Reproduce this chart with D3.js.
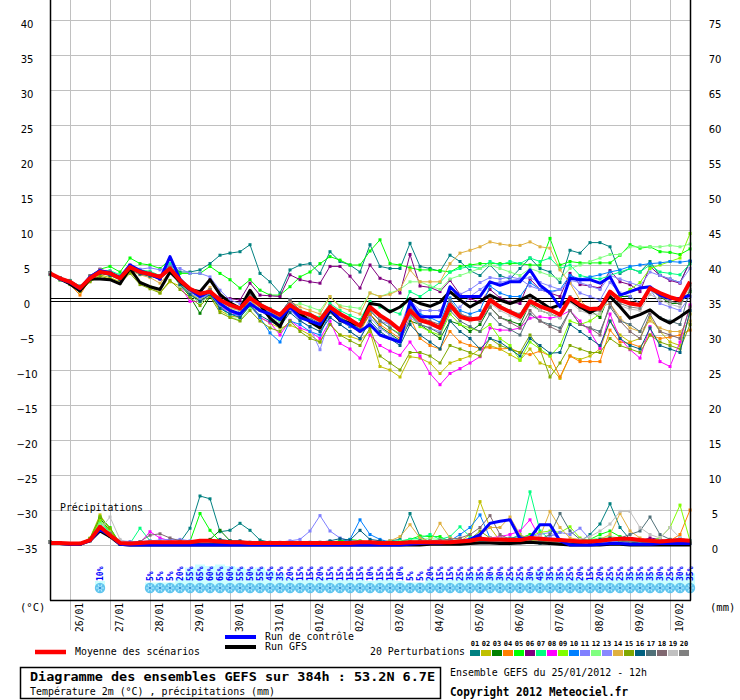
<!DOCTYPE html>
<html><head><meta charset="utf-8">
<script src="https://cdn.jsdelivr.net/npm/d3@7"></script>
<style>
body{margin:0;background:#fff;}
svg{display:block;}
</style></head><body>
<svg id="c" width="740" height="700"></svg>
<script>
// ---------- DATA ----------
const memberColors = ["#008080","#c0c000","#008000","#ff8000","#00ff00","#800080","#00ff80","#ff00ff","#80ff00","#0080ff",
                      "#8080ff","#80ff80","#8888ff","#e0b040","#80a800","#006080","#507078","#806870","#c0c0c0","#808080"];
const memberIds = ["01","02","03","04","05","06","07","08","09","10","11","12","13","14","15","16","17","18","19","20"];
const dateHours = [12,36,60,84,108,132,156,180,204,228,252,276,300,324,348,372];
const dateLabels = ["26/01","27/01","28/01","29/01","30/01","31/01","01/02","02/02","03/02","04/02","05/02","06/02","07/02","08/02","09/02","10/02"];
const leftTicks = [-35,-30,-25,-20,-15,-10,-5,0,5,10,15,20,25,30,35,40];
const rightTicks = [0,5,10,15,20,25,30,35,40,45,50,55,60,65,70,75];

// temperature (°C), every 6h from 25/01 12h
const tMean = [3.8, 3.1,2.6,1.7,3.1, 4.0,3.8,3.1,4.7, 4.0,3.7,3.3,4.5, 2.8,1.6,0.9,1.2, 0.0,-0.7,-1.2,0.3, -0.7,-1.4,-2.1,-0.7, -1.7,-2.1,-2.9,-1.0, -2.0,-2.8,-3.7,-1.0, -2.2,-3.1,-4.3,-1.5, -2.9,-3.3,-4.0,-0.7, -2.4,-2.8,-2.6,0.0, -1.0,-1.7,-2.4,-0.2, -0.9,-1.4,-2.1,0.3, -0.7,-1.3,-1.2,1.2, 0.0,-0.5,-0.7,1.7, 1.0,0.4,0.0,2.6];
const tCtrl = [3.8, 3.0,2.5,1.6,3.3, 4.2,3.9,3.2,5.0, 4.2,3.7,3.0,6.2, 3.0,1.5,0.5,1.2, -0.5,-1.5,-2.0,-0.5, -1.5,-2.0,-2.8,-1.0, -2.5,-3.0,-3.5,-1.2, -2.8,-3.5,-4.5,-3.5, -5.0,-5.5,-6.0,-0.2, -2.4,-2.4,-2.4,1.9, 0.5,0.5,0.5,2.6, 2.1,2.6,2.6,4.3, 2.1,1.0,-1.0,3.1, 2.9,2.9,2.4,3.3, 0.7,1.2,1.7,1.9, 0.7,0.2,0.2,0.7];
const tGfs = [3.8, 3.0,2.3,1.3,3.0, 3.0,2.9,2.3,4.5, 2.5,1.9,1.5,4.0, 2.6,1.5,1.2,2.9, 0.8,-0.4,-1.2,1.4, -0.7,-2.6,-3.8,-0.7, -1.9,-3.1,-4.0,-1.4, -2.9,-3.3,-3.6,-0.5, -0.7,-1.7,-1.0,0.2, -0.5,-0.9,-0.3,1.2, 0.0,-1.0,-0.2,0.7, 0.0,-0.5,0.0,0.7, -0.2,-1.2,-0.7,0.0, -0.95,-1.8,-1.0,0.5, -0.95,-2.6,-2.1,-1.4, -2.6,-3.3,-2.4,-1.4];

const t01 = [3.9, 3.2,2.8,2.0,3.3, 4.1,3.7,3.0,4.6, 4.1,3.9,3.5,5.0, 4.0,4.0,4.3,5.2, 6.4,6.7,6.9,7.9, 3.8,2.6,1.0,4.3, 5.0,5.2,3.8,6.9, 5.5,5.0,4.0,7.9, 4.8,4.5,4.5,8.1, 4.8,4.5,4.1,6.4, 5.5,4.2,3.5,5.0, 3.5,3.0,4.5,6.0, 4.5,4.0,2.5,7.1, 6.7,8.2,8.2,7.6, 3.8,4.5,4.0,5.5, 3.5,3.0,2.5,5.5];
const t02 = [3.8, 3.0,2.4,1.4,2.7, 3.6,3.2,2.6,4.0, 2.5,1.9,1.0,2.6, 2.0,0.8,-0.5,0.8, -1.5,-2.3,-2.5,-0.8, -2.5,-3.3,-4.0,-3.6, -4.2,-5.0,-6.0,-3.5, -5.0,-5.2,-5.7,-4.5, -9.5,-10.0,-11.0,-8.1, -8.3,-9.0,-10.5,-9.0, -8.5,-8.0,-7.0,-6.5, -7.0,-7.8,-8.6,-7.0, -9.0,-9.5,-11.2,-8.0, -8.5,-8.0,-7.0,-3.0, -5.0,-6.0,-5.5,-2.5, -4.5,-6.0,-6.5,-2.0];
const t03 = [3.8, 3.0,2.5,1.6,3.2, 4.0,3.8,3.1,4.8, 4.0,3.7,3.3,4.5, 2.2,0.5,-1.9,0.5, -0.8,-1.5,-2.0,0.3, -1.2,-2.2,-3.0,-0.8, -2.2,-3.0,-3.8,-1.5, -2.8,-3.5,-4.2,-2.0, -3.8,-4.8,-5.8,-3.0, -3.5,-4.5,-5.5,-3.0, -3.5,-4.5,-3.5,-1.0, -2.5,-3.0,-3.5,-0.5, -1.5,-2.0,-2.5,0.0, -1.0,-1.5,-2.5,1.0, 0.5,0.5,-0.5,1.5, 0.5,-0.5,-0.5,1.2];
const t04 = [3.8, 2.9,2.2,0.7,3.0, 3.8,3.6,2.9,4.4, 3.8,3.5,3.0,4.2, 2.6,0.8,0.0,1.5, -0.8,-1.5,-2.0,0.0, -1.5,-2.5,-3.5,-1.0, -2.5,-3.2,-4.0,-1.8, -3.0,-3.8,-4.5,-2.0, -3.5,-4.5,-5.5,-2.5, -5.5,-6.5,-7.0,-4.5, -6.0,-6.5,-6.9,-6.8, -7.0,-6.9,-7.5,-7.8, -7.3,-8.0,-11.0,-8.0, -8.8,-8.8,-8.8,-4.3, -6.0,-6.2,-6.7,-5.0, -5.5,-5.3,-5.0,-4.3];
const t05 = [3.8, 3.1,2.7,1.9,3.4, 4.4,4.8,4.0,6.0, 5.2,5.0,4.5,5.8, 3.8,3.8,3.8,4.8, 3.8,2.9,1.7,2.9, 1.4,0.7,0.7,1.9, 3.3,4.0,5.2,6.2, 5.7,5.0,5.0,7.0, 8.6,5.2,5.0,4.6, 4.3,4.3,4.2,4.0, 4.8,5.0,5.2,5.2, 5.2,5.2,5.2,5.0, 5.0,8.8,5.0,5.5, 5.3,5.3,5.3,5.3, 6.4,7.9,7.4,7.6, 6.9,6.8,6.5,7.3];
const t06 = [3.8, 3.1,2.7,1.8,3.2, 4.3,3.9,3.0,4.6, 3.9,3.5,3.2,4.3, 2.5,1.2,0.8,2.9, 0.5,0.2,0.0,2.4, 0.7,0.6,0.5,3.6, 2.9,2.6,2.4,4.8, 4.8,3.4,1.7,5.0, 3.1,2.6,1.0,6.5, 2.0,1.8,1.2,2.8, 0.8,0.2,-0.3,1.5, 0.3,-0.3,-0.5,3.0, 1.5,1.0,0.5,3.8, 2.2,2.0,1.7,4.2, 2.6,2.2,1.2,4.8, 3.5,2.8,2.4,5.5];
const t07 = [3.9, 3.1,2.7,1.9,3.4, 4.2,4.2,3.6,5.0, 4.3,4.1,3.5,5.2, 2.8,1.5,0.5,1.5, -0.2,-1.0,-1.5,0.5, -0.5,-1.2,-2.0,0.0, -1.5,-2.0,-2.5,-0.5, -1.5,-2.2,-2.8,-0.2, -1.0,-1.5,-2.0,1.2, 0.5,1.5,2.5,4.0, 4.5,4.8,4.5,5.5, 5.0,5.5,5.2,6.0, 5.5,6.0,4.5,5.0, 3.5,3.2,3.0,3.5, 4.0,4.5,4.0,5.0, 4.0,3.8,3.6,5.2];
const t08 = [3.7, 3.0,2.4,1.5,3.3, 4.4,4.0,3.2,5.0, 3.8,3.5,3.0,4.8, 2.0,-0.2,-0.2,0.7, -1.0,-1.7,-2.3,-0.5, -2.5,-3.2,-5.0,-2.9, -4.0,-4.5,-5.5,-3.0, -6.2,-7.0,-8.3,-5.0, -6.5,-7.3,-7.9,-6.0, -8.0,-10.5,-12.1,-10.5, -9.8,-9.0,-8.1,-4.0, -4.3,-4.3,-4.0,-2.6, -2.4,-2.6,-2.3,-1.5, -3.0,-4.5,-6.9,-2.0, -5.5,-7.1,-8.3,-3.8, -8.8,-9.5,-6.0,-0.7];
const t09 = [3.8, 3.1,2.6,1.7,3.0, 3.9,3.7,3.0,4.6, 4.0,3.6,3.2,4.5, 2.4,1.0,0.0,0.9, -0.5,-1.5,-2.0,0.0, -1.0,-2.0,-2.8,-0.8, -2.0,-2.8,-3.5,-1.2, -2.5,-3.2,-4.0,-1.5, -3.0,-4.0,-4.8,-2.0, -3.8,-4.5,-5.0,-2.0, -3.5,-4.0,-4.5,-3.5, -5.5,-6.5,-8.6,-6.0, -7.0,-8.0,-6.5,-3.0, -3.5,-3.0,-2.0,1.0, 0.5,1.5,2.5,4.5, 5.0,5.5,6.0,9.5];
const t10 = [3.7, 3.0,2.5,1.6,3.2, 4.1,3.8,3.1,4.9, 4.2,3.8,3.4,4.8, 2.5,1.2,0.3,0.8, -1.0,-2.0,-2.2,-0.8, -2.5,-4.7,-6.0,-3.0, -3.5,-4.5,-5.0,-1.8, -3.0,-3.8,-4.2,-1.0, -2.5,-3.5,-4.5,-1.0, -2.0,-2.5,-3.2,0.3, -1.5,-2.0,-1.5,2.0, 1.0,0.5,0.5,2.5, 1.5,1.2,1.5,3.5, 3.0,3.3,3.6,4.0, 4.3,4.8,5.0,5.2, 5.3,5.5,5.4,5.6];
const t11 = [3.9, 3.2,2.6,1.8,3.2, 4.2,4.0,3.4,4.9, 4.4,4.6,4.3,4.8, 4.5,3.8,3.8,3.3, 1.4,0.0,-0.5,0.8, -0.8,-1.5,-2.0,0.0, -2.2,-3.0,-3.5,-1.5, -3.0,-3.5,-4.0,-1.5, -3.0,-3.5,-4.0,0.0, -1.5,-1.5,-1.5,1.0, 0.8,1.5,2.5,3.2, 3.0,3.3,3.0,2.0, 1.5,1.0,1.5,2.5, 1.0,0.5,0.0,2.5, 1.0,0.5,-0.5,1.5, -0.5,-1.0,-1.5,0.5];
const t12 = [3.6, 2.8,2.3,1.5,3.0, 3.9,3.6,3.0,4.5, 3.9,3.6,3.2,4.2, 2.0,0.8,-0.5,0.7, -1.0,-2.4,-2.9,-1.2, -1.5,-2.5,-3.1,-1.0, -0.5,-1.0,-1.5,0.5, -0.8,-1.0,-1.2,1.0, 0.5,1.0,1.5,2.6, 2.6,2.0,1.5,3.0, 3.5,4.0,4.5,5.0, 4.5,4.0,3.5,4.5, 4.0,3.5,3.0,4.5, 5.0,5.5,6.0,6.5, 6.5,7.6,7.6,7.6, 7.6,7.8,7.6,8.0];
const t13 = [3.8, 3.1,2.5,1.6,3.1, 4.0,3.7,3.0,4.5, 3.9,3.6,3.2,4.4, 2.3,1.0,0.2,0.8, -0.8,-1.6,-2.0,-0.3, -1.5,-2.5,-3.5,-1.5, -2.8,-4.0,-7.1,-2.5, -3.5,-4.5,-5.5,-2.5, -4.0,-5.0,-6.0,-2.5, -3.5,-4.0,-4.5,-1.5, -1.0,0.5,1.5,2.5, 2.5,2.8,3.0,3.2, 2.5,2.0,1.5,2.8, 2.5,2.0,1.5,3.5, 3.0,2.5,2.0,4.0, 3.5,3.0,2.5,4.5];
const t14 = [3.8, 3.0,2.5,1.5,2.8, 4.0,3.8,2.8,4.2, 3.6,3.2,2.4,4.0, 2.5,1.2,0.5,1.8, -0.5,-1.2,-1.5,0.5, -1.0,-1.8,-2.5,-0.2, -1.0,-1.5,-2.0,0.5, -1.0,-1.5,-2.0,1.0, 0.5,0.8,1.5,4.3, 2.6,2.6,2.6,5.2, 6.7,7.1,7.6,8.3, 8.0,7.8,7.8,8.3, 7.6,7.4,4.3,2.4, 0.0,-1.5,-1.0,-0.5, -2.5,-4.0,-4.5,-3.0, -4.0,-4.5,-4.5,-3.0];
const t15 = [3.8, 2.9,2.3,1.2,2.6, 3.4,3.0,2.4,3.8, 2.2,1.6,1.0,2.8, 1.5,0.4,-0.8,0.5, -1.8,-2.5,-3.0,-1.5, -3.0,-4.0,-4.5,-3.0, -4.5,-5.5,-6.0,-3.5, -5.0,-5.8,-6.5,-4.0, -8.0,-9.0,-10.0,-7.5, -7.5,-8.0,-9.0,-6.5, -7.0,-7.5,-8.0,-5.5, -6.5,-7.0,-7.5,-5.0, -7.0,-11.0,-9.0,-6.5, -7.0,-7.5,-7.5,-5.5, -6.5,-7.0,-7.5,-5.0, -6.0,-6.5,-7.0,-3.5];
const t16 = [3.7, 2.9,2.3,1.4,2.9, 3.8,3.5,2.9,4.4, 3.7,3.4,3.0,4.3, 2.2,0.8,-0.2,0.8, -1.2,-2.0,-2.5,-0.8, -2.2,-3.0,-3.8,-1.8, -3.0,-3.8,-4.5,-2.5, -3.5,-4.5,-5.5,-3.0, -4.5,-5.5,-6.5,-3.5, -5.0,-6.0,-7.0,-3.0, -4.5,-5.5,-7.0,-5.5, -6.0,-7.0,-8.0,-5.5, -6.5,-7.6,-7.5,-3.5, -4.5,-5.5,-6.5,-3.0, -5.5,-6.5,-7.0,-4.0, -6.5,-7.0,-7.5,-1.5];
const t17 = [3.8, 3.1,2.6,1.8,3.4, 4.2,3.9,3.2,4.8, 4.1,3.8,3.4,4.6, 2.6,1.2,0.5,1.4, -0.2,-0.9,-1.5,0.5, -1.0,-1.8,-2.5,-0.5, -2.0,-2.6,-3.3,-1.2, -2.5,-3.2,-4.2,-1.5, -3.0,-4.0,-5.0,-2.0, -3.5,-4.0,-4.8,-1.5, -3.0,-3.8,-4.5,-2.0, -3.5,-4.2,-5.0,-2.0, -3.0,-3.5,-4.0,-1.5, -3.5,-4.0,-4.5,-1.0, -3.0,-3.5,-4.5,-1.5, -2.5,-3.0,-3.5,1.5];
const t18 = [3.9, 3.2,2.7,1.9,3.5, 4.3,4.0,3.2,4.9, 4.2,3.9,3.5,4.7, 2.8,1.5,0.8,1.5, 0.0,-0.7,-1.2,0.8, -0.5,-1.3,-2.0,0.0, -1.5,-2.2,-2.8,-0.8, -2.0,-2.8,-3.5,-1.0, -2.5,-3.3,-4.2,-1.0, -2.5,-3.0,-3.5,-0.5, -2.0,-2.5,-3.0,-1.0, -2.5,-3.2,-4.0,-1.5, -3.0,-3.8,-4.5,-1.5, -3.5,-4.0,-5.0,-0.5, -3.0,-4.5,-5.5,-2.0, -4.5,-5.0,-5.5,-1.0];
const t19 = [3.8, 3.0,2.6,1.7,3.1, 4.0,3.8,3.1,4.7, 4.0,3.7,3.3,4.5, 2.6,1.3,0.6,1.0, -0.3,-1.0,-1.5,0.2, -1.0,-1.6,-2.3,-0.8, -1.8,-2.4,-3.2,-1.2, -2.3,-3.0,-3.8,-1.2, -2.5,-3.4,-4.4,-1.8, -3.0,-3.6,-4.2,-1.0, -2.5,-3.0,-2.8,-0.5, -1.5,-2.2,-2.8,-0.8, -1.5,-2.0,-2.6,-0.3, -1.5,-2.0,-2.0,0.5, -0.8,-1.3,-1.5,0.8, 0.0,-0.6,-1.0,1.8];
const t20 = [3.7, 3.0,2.5,1.7,3.3, 4.3,4.0,3.3,4.8, 4.1,3.8,3.5,4.6, 2.7,1.4,0.7,1.3, -0.2,-0.8,-1.3,0.5, -0.8,-1.5,-2.2,-0.5, -1.6,-2.2,-3.0,-0.8, -2.0,-2.8,-3.6,-0.8, -2.3,-3.3,-4.2,-1.2, -2.8,-3.2,-3.8,0.0, -2.0,-2.5,-2.5,0.5, -0.8,-1.5,-2.0,0.3, -1.0,-1.5,-2.0,0.5, -1.0,-1.8,-1.5,1.0, -0.5,-1.0,-1.2,1.5, 0.5,-0.2,-0.5,2.2];

// precipitation (mm / 6h)
const pMean = [0.3,0.3,0.2,0.2,0.7,2.6,1.4,0.3,0.2,0.3,0.4,0.4,0.4, 0.4,0.4,0.6,0.6,0.5,0.4,0.4,0.3,0.3,0.3,0.3,0.3,0.3, 0.3,0.3,0.3,0.3,0.3,0.4,0.4,0.3,0.3,0.3,0.4,0.4,0.4, 0.4,0.4,0.5,0.6,0.9,0.8,0.8,0.7,0.7,1.0,0.9,0.8,0.7, 0.6,0.5,0.5,0.6,0.8,0.9,0.9,0.7,0.6,0.5,0.6,0.7,0.6];
const pCtrl = [0.3,0.2,0.1,0.1,0.6,2.2,1.4,0.1,0,0,0,0,0, 0,0,0,0,0,0,0,0,0,0,0,0,0, 0,0,0,0,0,0,0,0,0,0,0.1,0.2,0.3, 0.3,0.4,0.5,0.8,1.5,3.1,3.4,3.6,0.9,1.0,2.9,2.9,0.6, 0,0,0,0.1,0.2,0.2,0.1,0.1,0.1,0.2,0.2,0.2,0.2];
const pGfs = [0.3,0.2,0.1,0.1,0.6,2.0,1.2,0.1,0,0,0,0,0, 0,0,0,0,0,0,0,0,0,0,0,0,0, 0,0,0,0,0,0,0,0,0,0,0,0,0.1, 0.1,0.1,0.1,0.2,0.3,0.3,0.2,0.2,0.3,0.4,0.3,0.2,0.1, 0,0,0,0,0.1,0.1,0,0,0,0,0,0,0];
const p01 = [0.4,0.3,0.2,0.2,0.6,2.5,1.8,0.1,0.1,0.2,0.3,0.3,0.4, 0.4,2.4,7.0,6.6,1.9,2.1,3.1,2.1,0.7,0.4,0.3,0.3,0.3, 0.2,0.3,0.4,0.5,0.6,0.5,0.4,0.4,0.6,0.8,4.5,1.2,0.4, 0.3,0.5,0.8,0.4,0.6,0.5,0.3,0.2,0.5,0.8,0.4,0.3,0.2, 0.3,0.5,1.5,3.0,5.9,2.5,0.8,0.4,0.3,0.5,0.4,0.3,0.2];
const p02 = [0.4,0.3,0.2,0.2,1.0,4.3,2.2,0.2,0.1,0.1,0.2,0.2,0.3, 0.3,0.3,0.2,0.2,0.2,0.3,0.3,0.2,0.2,0.2,0.2,0.3,0.3, 0.3,0.3,0.4,0.4,0.3,0.3,0.3,0.3,0.3,0.4,0.5,0.4,0.3, 0.3,0.3,0.5,1.5,6.2,2.5,0.6,0.4,0.5,0.6,0.5,0.3,0.3, 0.3,0.3,0.4,0.5,0.6,0.5,0.4,0.3,0.3,0.4,0.5,0.4,0.3];
const p03 = [0.4,0.3,0.2,0.2,0.8,3.8,2.0,0.2,0.1,0.1,0.2,0.2,0.2, 0.2,0.3,0.5,0.8,2.1,0.6,0.3,0.2,0.2,0.2,0.2,0.2,0.3, 0.3,0.3,0.3,0.3,0.3,0.4,0.4,0.3,0.3,0.3,0.4,0.3,0.3, 0.3,0.3,0.3,0.4,0.6,0.5,0.4,0.4,0.5,0.4,0.3,0.3,0.3, 0.3,0.4,0.4,0.5,0.6,0.5,0.4,0.3,0.3,0.4,0.4,0.3,0.3];
const p04 = [0.4,0.3,0.2,0.1,0.6,2.2,1.6,0.1,0.1,0.1,0.1,0.2,0.2, 0.2,0.2,0.2,0.2,0.2,0.2,0.2,0.2,0.2,0.2,0.2,0.2,0.2, 0.2,0.2,0.2,0.3,0.3,0.3,0.3,0.3,0.3,0.3,0.4,0.5,0.4, 0.4,0.3,0.3,0.4,0.5,0.4,0.3,0.3,0.4,0.5,0.4,0.3,0.3, 0.3,0.3,0.4,0.4,0.5,0.5,0.4,0.3,0.3,0.4,0.6,1.5,5.0];
const p05 = [0.4,0.3,0.2,0.2,0.9,4.0,2.5,0.2,0.1,0.2,0.2,0.3,0.3, 0.3,0.5,4.5,2.1,0.5,0.4,0.3,0.3,0.3,0.2,0.3,0.3,0.3, 0.3,0.3,0.4,0.6,0.8,0.6,0.4,0.3,0.4,0.5,0.8,1.3,1.2, 1.2,0.5,0.3,0.4,0.5,0.4,0.3,0.4,1.0,1.5,0.6,0.3,0.3, 0.4,0.5,0.8,1.5,2.0,1.2,0.6,0.3,0.4,0.5,0.8,0.6,0.4];
const p06 = [0.4,0.3,0.2,0.2,0.7,2.7,1.7,0.2,0.1,0.1,0.2,0.3,0.3, 0.3,0.3,0.2,0.2,0.2,0.2,0.2,0.2,0.2,0.2,0.2,0.3,0.3, 0.3,0.3,0.3,0.3,0.3,0.3,0.3,0.4,0.4,0.4,0.5,0.5,0.4, 0.4,0.4,0.5,0.8,1.2,0.6,0.4,0.4,0.5,0.5,0.4,0.3,0.3, 0.3,0.3,0.4,0.5,0.6,0.7,0.8,0.6,1.0,0.8,0.5,0.4,0.3];
const p07 = [0.4,0.3,0.2,0.2,0.8,3.2,1.9,0.2,0.2,2.4,0.6,0.3,0.3, 0.3,0.3,0.3,0.2,0.2,0.2,0.2,0.2,0.2,0.2,0.3,0.3,0.3, 0.3,0.3,0.3,0.3,0.3,0.3,0.4,0.4,0.5,0.6,0.8,1.0,1.5, 0.8,1.2,2.6,1.2,0.6,0.8,0.8,0.8,1.5,7.6,2.0,0.8,0.5, 0.4,0.4,0.5,0.6,0.5,0.4,0.4,0.3,0.3,0.4,0.4,0.3,0.3];
const p08 = [0.4,0.3,0.2,0.2,0.7,2.9,1.8,0.2,0.2,0.3,1.9,1.0,0.6, 0.5,0.4,0.3,0.2,0.2,0.2,0.2,0.2,0.2,0.2,0.2,0.2,0.3, 0.3,0.3,0.3,0.3,0.3,0.3,0.3,0.3,0.3,0.3,0.4,0.5,0.6, 0.6,0.5,0.5,0.6,0.8,1.0,1.2,1.5,2.0,3.6,1.0,0.5,0.4, 0.4,0.4,0.4,0.5,0.5,0.4,0.3,0.3,0.3,0.3,0.4,0.3,0.3];
const p09 = [0.4,0.3,0.2,0.2,0.8,3.5,2.0,0.2,0.2,0.2,0.2,0.2,0.3, 0.3,0.3,0.3,0.3,0.3,0.3,0.3,0.3,0.3,0.3,0.3,0.3,0.3, 0.3,0.3,0.3,0.3,0.3,0.3,0.3,0.3,0.3,0.3,0.4,0.4,0.5, 0.5,0.4,0.4,0.5,0.6,0.6,0.7,0.8,1.0,1.2,1.8,2.0,1.8, 2.6,1.0,0.6,0.6,0.8,1.0,0.8,0.6,0.6,1.0,2.5,5.7,0.6];
const p10 = [0.4,0.3,0.2,0.2,0.7,2.6,1.5,0.2,0.2,0.2,0.2,0.3,0.3, 0.3,0.3,0.3,0.3,0.3,0.3,0.2,0.2,0.2,0.2,0.2,0.3,0.4, 0.4,0.3,0.3,0.4,0.8,3.6,1.5,0.8,0.4,0.3,0.3,0.4,0.5, 0.4,0.6,1.5,2.5,4.3,1.0,0.4,0.3,0.4,0.5,0.3,0.3,0.3, 0.4,0.5,0.6,0.4,0.5,0.6,0.5,0.4,0.5,0.6,0.7,1.0,0.6];
const p11 = [0.4,0.3,0.2,0.2,0.7,2.8,1.5,0.6,0.5,0.5,0.6,0.7,0.8, 0.8,0.6,0.5,0.5,0.4,0.3,0.3,0.3,0.2,0.3,0.4,0.6,0.8, 2.0,4.2,2.0,1.0,0.6,0.5,0.4,0.3,0.3,0.3,0.4,0.4,0.6, 0.5,0.4,0.3,0.3,0.4,0.5,0.4,0.3,0.3,0.6,0.8,1.2,1.8, 1.5,2.4,0.8,0.5,0.4,0.3,0.3,0.4,0.4,0.3,0.3,0.2,0.2];
const p12 = [0.4,0.3,0.2,0.2,0.8,3.0,1.8,0.3,0.2,0.3,0.4,0.4,0.4, 0.3,0.3,0.3,0.3,0.3,0.3,0.3,0.3,0.3,0.3,0.3,0.3,0.3, 0.3,0.3,0.3,0.3,0.3,0.3,0.3,0.4,0.4,0.5,0.6,0.8,0.9, 0.8,0.6,0.6,0.5,0.5,0.6,0.7,0.8,0.8,0.7,0.6,0.5,0.5, 0.5,0.6,0.8,1.0,1.2,1.0,0.8,0.6,0.5,0.5,0.5,0.4,0.4];
const p13 = [0.4,0.3,0.2,0.2,0.7,2.4,1.4,0.2,0.2,0.2,0.2,0.2,0.3, 0.3,0.3,0.3,0.3,0.3,0.3,0.3,0.3,0.3,0.3,0.3,0.3,0.3, 0.3,0.3,0.3,0.3,0.3,0.3,0.3,0.3,0.3,0.3,0.3,0.3,0.3, 0.3,0.3,0.3,0.3,0.4,0.5,0.6,0.8,1.0,1.2,1.5,1.8,0.8, 0.5,0.4,0.4,0.5,0.5,0.4,0.4,0.3,0.3,0.3,0.3,0.3,0.3];
const p14 = [0.4,0.3,0.2,0.2,0.7,2.6,1.7,0.2,0.2,0.2,0.3,0.3,0.3, 0.3,0.3,0.3,0.3,0.3,0.3,0.3,0.3,0.3,0.3,0.3,0.3,0.3, 0.3,0.3,0.3,0.3,0.3,0.3,0.3,0.4,0.6,1.2,2.9,1.0,0.5, 3.1,1.0,0.8,0.8,1.5,2.5,2.5,4.0,1.5,0.8,1.2,4.8,2.5, 1.0,0.8,0.6,0.8,1.5,4.5,2.0,1.0,0.6,0.5,0.5,0.5,0.4];
const p15 = [0.4,0.3,0.2,0.2,0.9,4.0,2.4,0.2,0.1,0.1,0.2,0.2,0.3, 0.3,0.3,0.3,0.3,0.3,0.3,0.2,0.2,0.2,0.2,0.2,0.2,0.3, 0.3,0.3,0.3,0.3,0.3,0.3,0.3,0.3,0.3,0.3,0.4,0.4,0.4, 0.4,0.4,0.5,0.8,2.0,1.0,0.5,0.4,0.5,0.6,0.5,0.4,0.4, 0.4,0.4,0.5,0.6,0.8,0.6,0.5,0.4,0.4,0.5,0.6,0.5,0.4];
const p16 = [0.4,0.3,0.2,0.1,0.6,2.0,1.2,0.1,0.1,0.1,0.2,0.2,0.3, 0.3,0.2,0.3,0.4,0.8,0.6,0.6,0.4,0.3,0.3,0.3,0.3,0.2, 0.2,0.4,0.6,0.9,0.7,2.1,0.8,0.6,0.4,0.3,0.4,0.6,0.5, 0.4,0.3,0.3,0.6,1.0,0.8,0.5,0.6,1.0,0.4,0.3,0.2,0.2, 0.2,0.3,0.4,0.8,1.0,0.6,0.4,0.3,0.3,0.4,0.6,0.5,0.3];
const p17 = [0.4,0.3,0.2,0.2,0.7,2.5,1.6,0.2,0.2,0.2,0.3,0.3,0.3, 0.3,0.3,0.3,0.3,0.3,0.3,0.3,0.3,0.3,0.3,0.3,0.3,0.3, 0.3,0.3,0.3,0.3,0.3,0.3,0.3,0.3,0.3,0.3,0.4,0.5,0.5, 0.5,0.5,0.5,0.6,0.8,0.8,1.0,1.0,1.2,1.0,0.8,1.5,4.5, 2.0,0.8,0.6,0.6,0.8,1.0,1.5,2.0,4.0,1.5,0.8,0.6,0.5];
const p18 = [0.4,0.3,0.2,0.2,0.7,2.6,1.7,0.2,0.3,0.5,1.4,1.6,1.0, 0.6,0.4,0.3,0.3,0.3,0.3,0.3,0.3,0.3,0.3,0.3,0.3,0.3, 0.3,0.3,0.3,0.3,0.3,0.3,0.3,0.3,0.3,0.3,0.4,0.5,0.6, 0.7,0.8,1.0,1.5,2.5,4.2,1.5,0.8,0.6,0.5,0.5,0.4,0.4, 0.4,0.4,0.5,0.6,0.7,0.6,0.5,0.4,0.4,0.4,0.5,0.4,0.3];
const p19 = [0.4,0.3,0.2,0.2,0.6,2.2,4.0,0.8,0.2,0.2,0.2,0.3,0.3, 0.3,0.3,0.3,0.3,0.3,0.3,0.3,0.3,0.3,0.3,0.3,0.3,0.3, 0.3,0.3,0.3,0.3,0.3,0.3,0.3,0.3,0.3,0.3,0.3,0.4,0.4, 0.4,0.4,0.5,0.6,0.8,1.0,1.0,0.8,0.8,1.0,1.2,0.8,0.6, 0.6,0.8,1.2,2.0,3.0,4.8,4.8,2.5,1.5,1.0,2.5,1.0,0.6];
const p20 = [0.4,0.3,0.2,0.2,0.7,2.4,1.5,0.2,0.2,0.2,0.2,0.2,0.2, 0.2,0.2,0.2,0.2,0.2,0.2,0.2,0.2,0.2,0.2,0.2,0.2,0.2, 0.2,0.2,0.2,0.2,0.2,0.2,0.2,0.2,0.2,0.2,0.3,0.3,0.3, 0.3,0.3,0.3,0.4,0.5,0.5,0.5,0.6,0.8,1.0,0.8,0.6,0.5, 0.5,0.5,0.6,0.6,0.7,0.6,0.5,0.5,0.4,0.4,0.5,0.4,0.3];

// snow probability (%)
const snowHours = [30, 60,66,72,78,84,90,96,102,108,114,120,126,132,138,144,150,156,162,168,174,180,186,192,198,204,210,216,222,228,234,240,246,252,258,264,270,276,282,288,294,300,306,312,318,324,330,336,342,348,354,360,366,372,378,384];
const snowPct = [10, 5,5,5,20,55,65,60,65,60,55,50,55,45,35,20,15,15,20,15,15,15,15,10,15,15,10,5,5,20,15,15,25,35,35,30,30,25,25,30,45,35,35,25,20,15,20,25,25,35,35,35,30,25,30,35];

const tMembers = [t01,t02,t03,t04,t05,t06,t07,t08,t09,t10,t11,t12,t13,t14,t15,t16,t17,t18,t19,t20];
const pMembers = [p01,p02,p03,p04,p05,p06,p07,p08,p09,p10,p11,p12,p13,p14,p15,p16,p17,p18,p19,p20];
const hours = d3.range(0, 385, 6);

// ---------- DRAW ----------
const svg = d3.select("#c");
const MONO = "'DejaVu Sans Mono', monospace";
const SANS = "'DejaVu Sans', sans-serif";
const x = d3.scaleLinear().domain([0,384]).range([50,690]);
const y = d3.scaleLinear().domain([-35,40]).range([545,20]);
const yR = d3.scaleLinear().domain([0,75]).range([545,20]);
const yP = d3.scaleLinear().domain([0,10]).range([545,475]);

// horizontal gridlines
svg.append("g").selectAll("line").data(leftTicks.filter(d=>d!==0)).join("line")
  .attr("x1",50).attr("x2",690).attr("y1",d=>Math.round(y(d))+0.5).attr("y2",d=>Math.round(y(d))+0.5)
  .attr("stroke","#c0c0c0").attr("stroke-width",1);

// date axis with vertical gridlines
const gx = svg.append("g").attr("transform","translate(0,630)")
  .call(d3.axisBottom(x).tickValues(dateHours).tickFormat((d,i)=>dateLabels[i]).tickSize(-630).tickPadding(0));
gx.select(".domain").remove();
gx.selectAll(".tick line").attr("stroke","#c0c0c0").attr("stroke-width",1);
gx.selectAll(".tick text").attr("x",0).attr("y",0).attr("dy",0)
  .attr("transform","translate(12,-27) rotate(-90)").attr("text-anchor","end")
  .style("font-family",MONO).style("font-size","11px").attr("fill","#000")
  .attr("textLength",29).attr("lengthAdjust","spacingAndGlyphs");

// left axis
const gl = svg.append("g").attr("transform","translate(50,0)")
  .call(d3.axisLeft(y).tickValues(leftTicks).tickSize(0));
gl.select(".domain").remove();
gl.selectAll(".tick text").attr("x",-23).attr("y",7.5).attr("dy",0).attr("text-anchor","middle")
  .style("font-family",SANS).style("font-size","10px").attr("fill","#000");

// right axis
const gr = svg.append("g").attr("transform","translate(690,0)")
  .call(d3.axisRight(yR).tickValues(rightTicks).tickSize(0));
gr.select(".domain").remove();
gr.selectAll(".tick text").attr("x",25).attr("y",7.5).attr("dy",0).attr("text-anchor","middle")
  .style("font-family",SANS).style("font-size","10px").attr("fill","#000");

// zero double line
svg.append("line").attr("x1",50).attr("x2",690).attr("y1",298.5).attr("y2",298.5).attr("stroke","#000").attr("stroke-width",1.2);
svg.append("line").attr("x1",50).attr("x2",690).attr("y1",301.5).attr("y2",301.5).attr("stroke","#000").attr("stroke-width",1.2);

// snow probability band, labels and flakes
const snowG = svg.append("g");
snowG.selectAll("rect").data(snowPct).join("rect")
  .attr("x",(d,i)=>x(snowHours[i])-5).attr("width",10)
  .attr("y",d=>584-0.3*d).attr("height",d=>4+0.3*d).attr("fill","#ccffff");
snowG.selectAll("text").data(snowPct).join("text")
  .attr("transform",(d,i)=>`translate(${x(snowHours[i])+3},581) rotate(-90)`)
  .attr("text-anchor","start").style("font-family",MONO).style("font-size","8px").style("font-weight","bold")
  .attr("fill","#0000ff").text(d=>d+"%");
const flakes = snowG.selectAll("g.flake").data(snowHours).join("g").attr("class","flake")
  .attr("transform",d=>`translate(${x(d)},588)`);
flakes.append("circle").attr("r",5.2).attr("fill","#5ec4ee");
[0,60,120].forEach(a=>{
  flakes.append("line").attr("x1",-4).attr("x2",4).attr("y1",0).attr("y2",0)
    .attr("transform",`rotate(${a})`).attr("stroke","#b8ecff").attr("stroke-width",1);
});
flakes.append("circle").attr("r",1.2).attr("fill","#3a8fd8");

// temperature lines
const lineT = d3.line().x((d,i)=>x(hours[i])).y(d=>y(d));
const lineP = d3.line().x((d,i)=>x(hours[i])).y(d=>yP(d));
const plot = svg.append("g");

tMembers.forEach((arr,k)=>{
  plot.append("path").attr("d",lineT(arr)).attr("fill","none").attr("stroke",memberColors[k]).attr("stroke-width",1);
  plot.append("g").selectAll("rect").data(arr).join("rect")
    .attr("x",(d,i)=>x(hours[i])-1.5).attr("y",d=>y(d)-1.5).attr("width",3).attr("height",3)
    .attr("fill",memberColors[k]);
});
pMembers.forEach((arr,k)=>{
  plot.append("path").attr("d",lineP(arr)).attr("fill","none").attr("stroke",memberColors[k]).attr("stroke-width",1);
  plot.append("g").selectAll("rect").data(arr).join("rect")
    .attr("x",(d,i)=>x(hours[i])-1.5).attr("y",d=>yP(d)-1.5).attr("width",3).attr("height",3)
    .attr("fill",memberColors[k]);
});
plot.append("path").attr("d",lineT(tGfs)).attr("fill","none").attr("stroke","#000").attr("stroke-width",3).attr("stroke-linejoin","round");
plot.append("path").attr("d",lineT(tCtrl)).attr("fill","none").attr("stroke","#0000ff").attr("stroke-width",3).attr("stroke-linejoin","round");
plot.append("path").attr("d",lineT(tMean)).attr("fill","none").attr("stroke","#ff0000").attr("stroke-width",4).attr("stroke-linejoin","round");
plot.append("path").attr("d",lineP(pGfs)).attr("fill","none").attr("stroke","#000").attr("stroke-width",3);
plot.append("path").attr("d",lineP(pCtrl)).attr("fill","none").attr("stroke","#0000ff").attr("stroke-width",3);
plot.append("path").attr("d",lineP(pMean)).attr("fill","none").attr("stroke","#ff0000").attr("stroke-width",4).attr("stroke-linejoin","round");

// frame
svg.append("line").attr("x1",50.5).attr("x2",50.5).attr("y1",0).attr("y2",600.5).attr("stroke","#000").attr("stroke-width",1.5);
svg.append("line").attr("x1",690.5).attr("x2",690.5).attr("y1",0).attr("y2",600.5).attr("stroke","#000").attr("stroke-width",1.5);
svg.append("line").attr("x1",50).attr("x2",691).attr("y1",600.5).attr("y2",600.5).attr("stroke","#000").attr("stroke-width",1.5);

// texts
function txt(xp,yp,s,opt={}){
  const t = svg.append("text").attr("x",xp).attr("y",yp).text(s)
    .style("font-family",opt.family||MONO).style("font-size",(opt.size||10)+"px")
    .style("font-weight",opt.bold?"bold":"normal").attr("fill",opt.fill||"#000");
  if(opt.len) t.attr("textLength",opt.len).attr("lengthAdjust","spacingAndGlyphs");
  if(opt.anchor) t.attr("text-anchor",opt.anchor);
  return t;
}
txt(60,511,"Précipitations",{size:10.5,len:83});
txt(20,611,"(°C)",{size:10.5});
txt(710,611,"(mm)",{size:10.5});

// legend
svg.append("line").attr("x1",35).attr("x2",66).attr("y1",652).attr("y2",652).attr("stroke","#ff0000").attr("stroke-width",4.5);
txt(75,655,"Moyenne des scénarios",{size:10.5,len:125});
svg.append("line").attr("x1",225).attr("x2",256).attr("y1",637).attr("y2",637).attr("stroke","#0000ff").attr("stroke-width",4);
txt(265,640,"Run de contrôle",{size:10,len:89});
svg.append("line").attr("x1",225).attr("x2",256).attr("y1",647).attr("y2",647).attr("stroke","#000").attr("stroke-width",4);
txt(265,650,"Run GFS",{size:10,len:42});
txt(370,655,"20 Perturbations",{size:10,len:95});
const sw = svg.append("g");
sw.selectAll("rect").data(memberColors).join("rect")
  .attr("x",(d,i)=>470+i*11).attr("y",650).attr("width",10).attr("height",6).attr("fill",d=>d);
sw.selectAll("text").data(memberIds).join("text")
  .attr("x",(d,i)=>475+i*11).attr("y",646).attr("text-anchor","middle")
  .style("font-family",MONO).style("font-size","7px").style("font-weight","bold")
  .text(d=>d);

// title box
svg.append("rect").attr("x",20.5).attr("y",667.5).attr("width",420).attr("height",31).attr("fill","none").attr("stroke","#000").attr("stroke-width",1.5);
txt(30,681,"Diagramme des ensembles GEFS sur 384h : 53.2N 6.7E",{bold:true,size:12,len:405});
txt(30,695,"Température 2m (°C) , précipitations (mm)",{size:10,len:245});
txt(450,676,"Ensemble GEFS du 25/01/2012 - 12h",{size:10.5,len:197});
txt(450,696,"Copyright 2012 Meteociel.fr",{bold:true,size:12,len:178});
</script>
</body></html>
